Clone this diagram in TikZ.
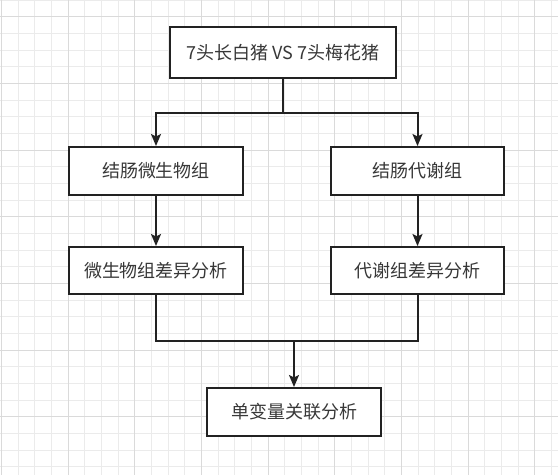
\documentclass[tikz,border=0pt]{standalone}
\usepackage{fontspec}
\newfontfamily\cjk{Noto Sans CJK SC}
\usetikzlibrary{arrows.meta}
\definecolor{gridminor}{HTML}{EBEBEB}
\definecolor{gridmajor}{HTML}{DADADA}
\definecolor{ink}{HTML}{222222}
\definecolor{txt}{HTML}{383838}
\tikzset{
  box/.style={draw=ink, line width=2pt, fill=white, minimum height=48pt, inner sep=0pt, font=\cjk\fontsize{18pt}{21pt}\selectfont, text=txt},
  conn/.style={draw=ink, line width=2pt},
  arr/.style={conn, -{Stealth[length=12pt,width=10pt,inset=2.5pt]}}
}
\begin{document}
\begin{tikzpicture}[x=1pt,y=-1pt]
\useasboundingbox (0,0) rectangle (558,475);
\fill[white] (0,0) rectangle (558,475);
% grid
\foreach \i in {0,...,33} {
  \pgfmathsetmacro{\xx}{1.33+16.667*\i}
  \draw[gridminor, line width=0.8pt] (\xx,0) -- (\xx,475);
}
\foreach \i in {0,...,28} {
  \pgfmathsetmacro{\yy}{16.667*\i}
  \draw[gridminor, line width=0.8pt] (0,\yy) -- (558,\yy);
}
\foreach \i in {0,...,8} {
  \pgfmathsetmacro{\xx}{1.33+66.667*\i}
  \draw[gridmajor, line width=0.9pt] (\xx,0) -- (\xx,475);
}
\foreach \i in {0,...,7} {
  \pgfmathsetmacro{\yy}{16.667+66.667*\i}
  \draw[gridmajor, line width=0.9pt] (0,\yy) -- (558,\yy);
}
% nodes
\node[box, minimum width=226pt, minimum height=51pt] (t) at (283,52.5) {7头长白猪 VS 7头梅花猪};
\node[box, minimum width=174pt] (a) at (156,171) {结肠微生物组};
\node[box, minimum width=173pt] (b) at (417.5,171) {结肠代谢组};
\node[box, minimum width=174pt, minimum height=47pt] (c) at (156,270.5) {微生物组差异分析};
\node[box, minimum width=173pt, minimum height=47pt] (d) at (417.5,270.5) {代谢组差异分析};
\node[box, minimum width=174pt] (e) at (294,412) {单变量关联分析};
\coordinate (split) at (283,113);
\coordinate (join) at (294,341);
% connectors
\draw[conn] (t) -- (split);
\draw[arr] (split) -| (a);
\draw[arr] (split) -| (b);
\draw[arr] (a) -- (c);
\draw[arr] (b) -- (d);
\draw[conn] (c.south) |- (join);
\draw[conn] (d.south) |- (join);
\draw[arr] (join) -- (e);
\end{tikzpicture}
\end{document}
